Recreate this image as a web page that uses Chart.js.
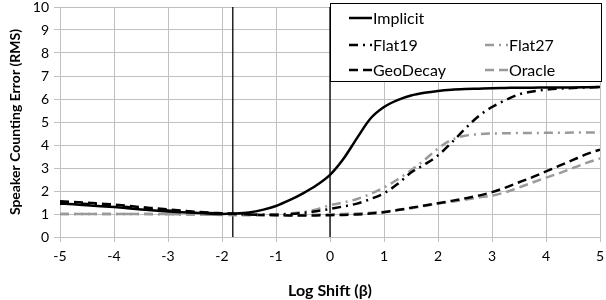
<!DOCTYPE html>
<html>
<head>
<meta charset="utf-8">
<script src="https://cdn.jsdelivr.net/npm/chart.js@4.4.0/dist/chart.umd.min.js"></script>
<style>
html,body{margin:0;padding:0;background:#fff;}
#wrap{width:606px;height:300px;position:relative;}
</style>
</head>
<body>
<div id="wrap"><canvas id="c" width="606" height="300"></canvas></div>
<script>
// ---- data ----
const xs = [-5,-4.75,-4.5,-4.25,-4,-3.75,-3.5,-3.25,-3,-2.75,-2.5,-2.25,-2,-1.75,-1.5,-1.25,-1,-0.75,-0.5,-0.25,0,0.25,0.5,0.75,1,1.25,1.5,1.75,2,2.25,2.5,2.75,3,3.25,3.5,3.75,4,4.25,4.5,4.75,5];
const implicit = [1.45,1.42,1.38,1.34,1.3,1.25,1.2,1.15,1.11,1.08,1.05,1.02,1.0,1.02,1.07,1.18,1.35,1.6,1.9,2.25,2.7,3.4,4.3,5.15,5.65,5.95,6.15,6.27,6.35,6.4,6.43,6.45,6.47,6.48,6.49,6.49,6.5,6.5,6.5,6.51,6.52];
const flat19 = [1.5,1.47,1.43,1.39,1.35,1.3,1.25,1.2,1.15,1.11,1.07,1.04,1.02,1.0,0.98,0.97,0.97,1.0,1.05,1.12,1.22,1.33,1.45,1.65,1.9,2.3,2.8,3.15,3.55,4.1,4.7,5.25,5.65,5.95,6.2,6.33,6.4,6.45,6.48,6.5,6.52];
const flat27 = [1.0,1.0,1.0,1.0,1.0,1.0,1.0,0.99,0.99,0.98,0.98,0.97,0.97,0.97,0.97,0.97,0.98,1.02,1.08,1.2,1.38,1.5,1.65,1.88,2.15,2.5,2.9,3.35,3.85,4.22,4.4,4.47,4.5,4.51,4.52,4.52,4.53,4.53,4.54,4.54,4.55];
const geoDecay = [1.55,1.52,1.49,1.45,1.41,1.36,1.3,1.25,1.2,1.15,1.1,1.06,1.03,1.0,0.98,0.96,0.95,0.94,0.94,0.94,0.95,0.96,0.98,1.02,1.08,1.17,1.27,1.37,1.47,1.57,1.68,1.8,1.95,2.15,2.38,2.6,2.85,3.1,3.35,3.6,3.8];
const oracle = [1.0,1.0,1.0,1.0,1.0,1.0,1.0,1.0,1.0,0.99,0.98,0.97,0.96,0.95,0.95,0.95,0.95,0.95,0.96,0.97,0.98,1.0,1.02,1.05,1.1,1.17,1.25,1.35,1.45,1.53,1.62,1.72,1.8,1.95,2.15,2.37,2.58,2.78,3.0,3.22,3.42];
const markerLines = [-1.8, 0];
const xTicks = [-5,-4,-3,-2,-1,0,1,2,3,4,5];
const yTicks = [0,1,2,3,4,5,6,7,8,9,10];

const BLACK = '#000000', GRAY = '#9a9a9a', GRID = '#c0c0c0';
const FONT = 'Lato, "Open Sans", sans-serif';

function pts(ys){ return xs.map((x,i)=>({x:x, y:ys[i]})); }

const series = [
  {label:'Implicit', data:pts(implicit), borderColor:BLACK, borderDash:[], legendRow:0, legendCol:0},
  {label:'Flat19', data:pts(flat19), borderColor:BLACK, borderDash:[9,5,2,5], legendRow:1, legendCol:0},
  {label:'Flat27', data:pts(flat27), borderColor:GRAY, borderDash:[9,5,2,5], legendRow:1, legendCol:1},
  {label:'GeoDecay', data:pts(geoDecay), borderColor:BLACK, borderDash:[9,5], legendRow:2, legendCol:0},
  {label:'Oracle', data:pts(oracle), borderColor:GRAY, borderDash:[9,5], legendRow:2, legendCol:1}
];

const datasets = series.map(s => ({
  label:s.label, data:s.data, borderColor:s.borderColor, borderDash:s.borderDash,
  borderWidth:2.5, pointRadius:0, showLine:true, fill:false,
  tension:0.4, cubicInterpolationMode:'monotone',
  legendRow:s.legendRow, legendCol:s.legendCol
}));
markerLines.forEach(v => datasets.push({
  label:'_marker', isMarker:true, data:[{x:v,y:0},{x:v,y:10}],
  borderColor:BLACK, borderWidth:1.3, pointRadius:0, showLine:true, fill:false, tension:0, clip:0
}));

const legendPlugin = {
  id:'boxLegend',
  afterDatasetsDraw(chart){
    const ctx = chart.ctx, xs_ = chart.scales.x, area = chart.chartArea;
    const left = Math.round(xs_.getPixelForValue(0)) + 0.5;
    const right = Math.round(area.right) + 1.5;
    const top = 3.5, bottom = 81.5;
    ctx.save();
    ctx.fillStyle = '#fff';
    ctx.fillRect(left, top, right-left, bottom-top);
    ctx.strokeStyle = '#000'; ctx.lineWidth = 1;
    ctx.strokeRect(left, top, right-left, bottom-top);
    const rowY = [18, 45, 70];
    const colX = [left + 18.5, left + 154.5];
    ctx.font = '16px ' + FONT;
    ctx.textBaseline = 'middle';
    chart.data.datasets.forEach(ds => {
      if (ds.isMarker) return;
      const x0 = colX[ds.legendCol], y = rowY[ds.legendRow];
      ctx.beginPath();
      ctx.setLineDash(ds.borderDash || []);
      ctx.strokeStyle = ds.borderColor; ctx.lineWidth = 2.5;
      ctx.moveTo(x0, y); ctx.lineTo(x0 + 23, y); ctx.stroke();
      ctx.setLineDash([]);
      ctx.fillStyle = '#000';
      ctx.fillText(ds.label, x0 + 24, y + 1);
    });
    ctx.restore();
  }
};

new Chart(document.getElementById('c'), {
  type:'scatter',
  data:{datasets:datasets},
  plugins:[legendPlugin],
  options:{
    responsive:false, animation:false,
    layout:{padding:{left:0,right:6,top:7,bottom:0}},
    plugins:{legend:{display:false}, tooltip:{enabled:false}},
    scales:{
      x:{
        type:'linear', min:-5, max:5,
        afterBuildTicks(s){ s.ticks = xTicks.map(v=>({value:v})); },
        afterFit(s){ s.height = 63; s.paddingLeft = 0; s.paddingRight = 0; },
        grid:{color:GRID, lineWidth:1, tickLength:5, drawTicks:true},
        border:{color:GRID},
        ticks:{color:'#000', font:{family:FONT, size:14}, padding:6, maxRotation:0},
        title:{display:true, text:'Log Shift (β)', color:'#000', font:{family:FONT, size:16, weight:'bold'}, padding:{top:7, bottom:0}}
      },
      y:{
        type:'linear', min:0, max:10,
        afterBuildTicks(s){ s.ticks = yTicks.map(v=>({value:v})); },
        afterFit(s){ s.width = 60; s.paddingTop = 0; s.paddingBottom = 0; },
        grid:{color:GRID, lineWidth:1, tickLength:6},
        border:{color:GRID},
        ticks:{color:'#000', font:{family:FONT, size:14}, padding:5},
        title:{display:true, text:'Speaker Counting Error (RMS)', color:'#000', font:{family:FONT, size:14, weight:'bold'}, padding:{top:7, bottom:0}}
      }
    }
  }
});
</script>
</body>
</html>
